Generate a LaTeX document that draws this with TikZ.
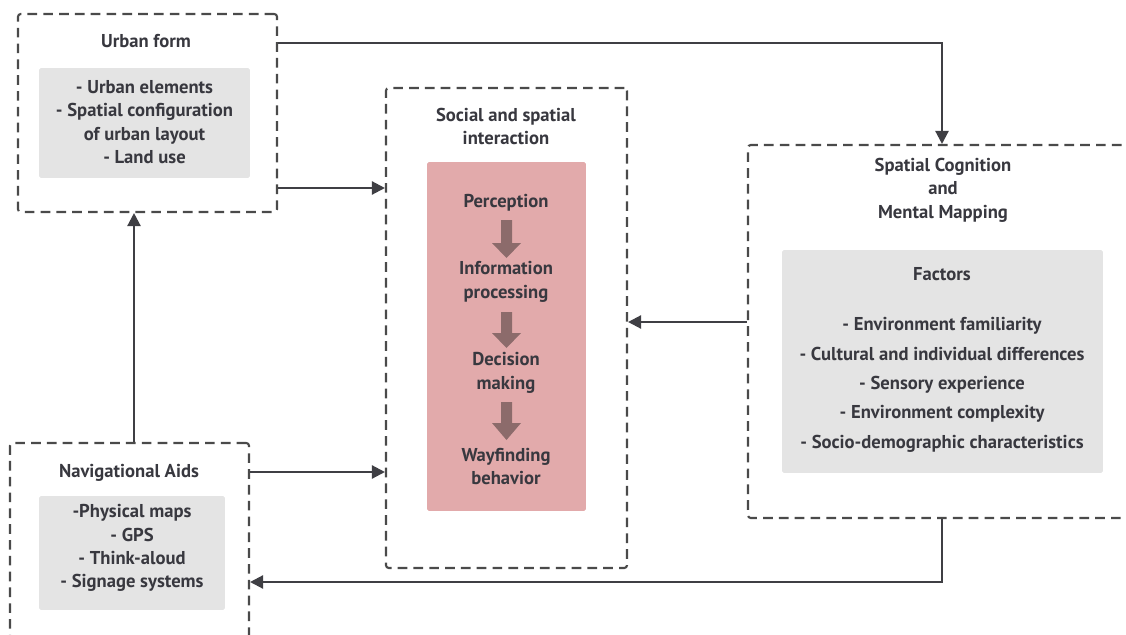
\documentclass[tikz,border=0pt]{standalone}
\usepackage{fontspec}
\setmainfont{PT Sans}
\usetikzlibrary{arrows.meta}
\definecolor{txt}{HTML}{38383F}
\definecolor{dashc}{HTML}{4A4A4A}
\definecolor{arrc}{HTML}{3F3F44}
\definecolor{graybg}{HTML}{E4E4E4}
\definecolor{pinkbg}{HTML}{E2AAAB}
\definecolor{pinkarr}{HTML}{8C6B6B}
\tikzset{
  outerbox/.style={draw=dashc, line width=1.2pt, dash pattern=on 5.5pt off 3.5pt, rounded corners=1.5pt, minimum width=#1, inner sep=0pt},
  graybox/.style={fill=graybg, draw=none, rounded corners=1pt, inner sep=0pt},
  pinkbox/.style={fill=pinkbg, draw=none, rounded corners=1pt, inner sep=0pt},
  ttl/.style={font=\bfseries\fontsize{10.6}{13.4}\selectfont, text=txt, align=center, inner sep=0pt},
  itm/.style={font=\bfseries\fontsize{10.6}{13.4}\selectfont, text=txt, align=center, inner sep=0pt},
  conn/.style={draw=arrc, line width=1.3pt, -{Triangle[length=7.5pt,width=7.5pt]}},
  blockarrow/.style={fill=pinkarr, draw=none}
}
\begin{document}
\begin{tikzpicture}[x=0.02cm, y=-0.02cm]
\useasboundingbox (0,0) rectangle (1126,635);
\clip (0,0) rectangle (1126,635);
% outer dashed boxes
\node[outerbox=5.18cm, minimum height=3.96cm] (urban) at (147.5,113) {};
\node[outerbox=4.82cm, minimum height=9.6cm] (social) at (506.5,328) {};
\node[outerbox=7.84cm, minimum height=7.46cm] (spatial) at (944,331.5) {};
\node[outerbox=4.78cm, minimum height=4.34cm] (nav) at (129.5,551.5) {};
% inner boxes
\node[graybox, minimum width=4.22cm, minimum height=2.2cm] (urbang) at (144.5,123) {};
\node[pinkbox, minimum width=3.18cm, minimum height=6.98cm] (pink) at (506.5,336.5) {};
\node[graybox, minimum width=6.42cm, minimum height=4.46cm] (factg) at (942.5,361.5) {};
\node[graybox, minimum width=3.72cm, minimum height=2.28cm] (navg) at (132,553) {};
% titles
\node[ttl] (urbant) at (146,41) {Urban form};
\node[ttl] (socialt) at (506,126.5) {Social and spatial\\interaction};
\node[ttl, font=\bfseries\fontsize{10.6}{13.3}\selectfont] (spatialt) at (943,190) {Spatial Cognition\\and\\Mental Mapping};
\node[ttl] (navt) at (129,473) {Navigational Aids};
% gray box contents
\node[itm] (urbani) at (144.5,122) {- Urban elements\\- Spatial configuration\\of urban layout\\- Land use};
\node[itm] (factt) at (942,274) {Factors};
\node[itm, font=\bfseries\fontsize{10.6}{16.7}\selectfont] (facti) at (942,385) {- Environment familiarity\\- Cultural and individual differences\\- Sensory experience\\- Environment complexity\\- Socio-demographic characteristics};
\node[itm, font=\bfseries\fontsize{10.6}{13.2}\selectfont] (navi) at (132,548) {-Physical maps\\- GPS\\- Think-aloud\\- Signage systems};
% pink box contents
\node[itm] (perc) at (506,203) {Perception};
\node[itm] (info) at (506,282) {Information\\processing};
\node[itm] (dec) at (506,373) {Decision\\making};
\node[itm] (way) at (506,466.5) {Wayfinding\\behavior};
% block arrows
\foreach \t/\h/\b in {220/243/258, 312/333/348, 402/423/440}{
  \fill[blockarrow] (501,\t) -- (512,\t) -- (512,\h) -- (521,\h) -- (506.5,\b) -- (492,\h) -- (501,\h) -- cycle;
}
% connectors
\coordinate (c1) at (942,43);
\draw[conn] (urban.east |- c1) -- (c1) -- (spatial.north -| c1);
\coordinate (c2) at (330,188);
\draw[conn] (urban.east |- c2) -- (social.west |- c2);
\coordinate (c3) at (134,300);
\draw[conn] (nav.north -| c3) -- (urban.south -| c3);
\coordinate (c4) at (330,472);
\draw[conn] (nav.east |- c4) -- (social.west |- c4);
\coordinate (c5) at (690,322);
\draw[conn] (spatial.west |- c5) -- (social.east |- c5);
\coordinate (c6) at (942,582);
\draw[conn] (spatial.south -| c6) -- (c6) -- (nav.east |- c6);
\end{tikzpicture}
\end{document}
